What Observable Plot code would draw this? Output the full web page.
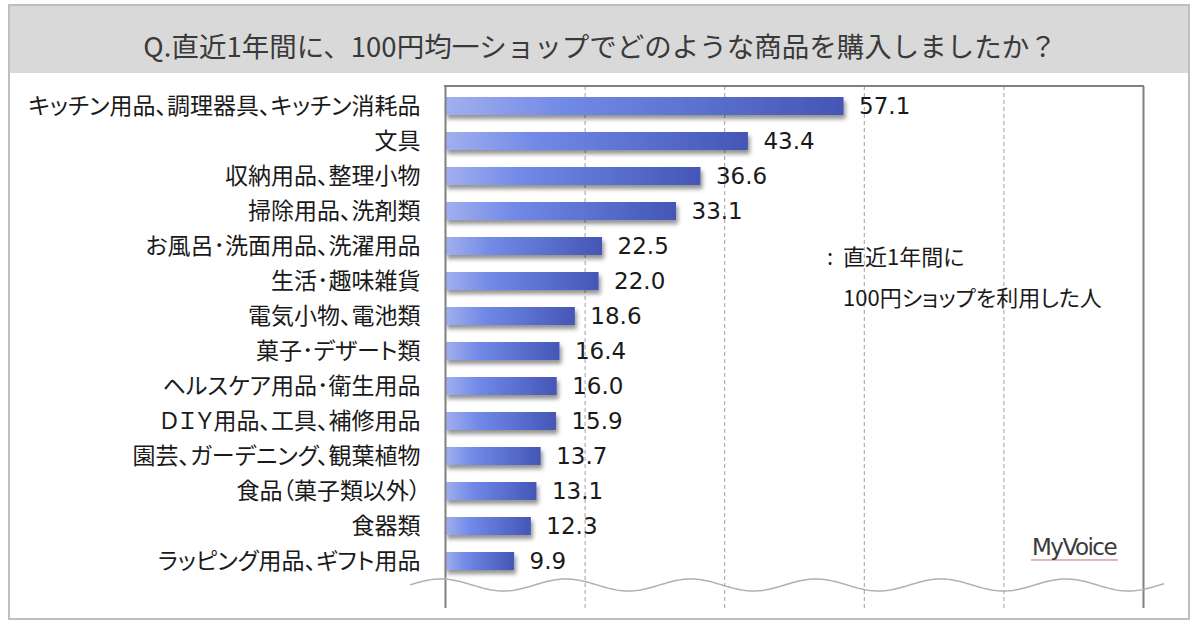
<!DOCTYPE html>
<html>
<head>
<meta charset="utf-8">
<script src="https://cdn.jsdelivr.net/npm/d3@7"></script>
<script src="https://cdn.jsdelivr.net/npm/@observablehq/plot@0.6"></script>
<style>
  html, body { margin: 0; padding: 0; background: #fff; }
  #wrap { position: relative; width: 1200px; height: 624px; overflow: hidden; background: #fff; }
  #border { position: absolute; left: 8px; top: 4px; width: 1182px; height: 616px; border: 2px solid #bfbfbf; box-sizing: border-box; }
  #titlebar { position: absolute; left: 10px; top: 6px; width: 1178px; height: 67px; background: #d9d9d9; }
  #title { position: absolute; left: 0; width: 1200px; top: 32px; text-align: center; font-family: "Noto Sans CJK JP", sans-serif; font-size: 27.5px; line-height: 27.5px; color: #3a3a3a; white-space: nowrap; }
  #chart { position: absolute; left: 0; top: 73px; }
  #chart svg text { font-feature-settings: "palt"; }
  .legend { position: absolute; font-family: "Noto Sans CJK JP", sans-serif; font-size: 22px; line-height: 22px; color: #1a1a1a; font-feature-settings: "palt"; white-space: nowrap; }
  #logo { position: absolute; left: 1031px; top: 535px; font-family: "DejaVu Sans", sans-serif; font-size: 23px; line-height: 24px; letter-spacing: -1.5px; color: #3a3a3a; border-bottom: 2px solid rgba(205,120,120,0.55); padding: 0 2px 0 1px; }
</style>
</head>
<body>
<div id="wrap">
  <div id="border"></div>
  <div id="titlebar"></div>
  <div id="title"></div>
  <div id="chart"></div>
  <div id="legendColon" class="legend" style="left:827px; top:244px;"></div>
  <div id="legend1" class="legend" style="left:843px; top:244px;"></div>
  <div id="legend2" class="legend" style="left:843px; top:285px;"></div>
  <div id="logo">MyVoice</div>
</div>
<script>
// ---- data ----
const titleText = "Q.直近1年間に、100円均一ショップでどのような商品を購入しましたか？";
const categories = [
  "キッチン用品、調理器具、キッチン消耗品",
  "文具",
  "収納用品、整理小物",
  "掃除用品、洗剤類",
  "お風呂･洗面用品、洗濯用品",
  "生活･趣味雑貨",
  "電気小物、電池類",
  "菓子･デザート類",
  "ヘルスケア用品･衛生用品",
  "ＤＩＹ用品、工具、補修用品",
  "園芸、ガーデニング、観葉植物",
  "食品（菓子類以外）",
  "食器類",
  "ラッピング用品、ギフト用品"
];
const values = [57.1, 43.4, 36.6, 33.1, 22.5, 22.0, 18.6, 16.4, 16.0, 15.9, 13.7, 13.1, 12.3, 9.9];
const gridTicks = [20, 40, 60, 80];
const frameTicks = [0, 100];
const legendMarker = ":";
const legendLines = ["直近1年間に", "100円ショップを利用した人"];

document.getElementById("title").textContent = titleText;
document.getElementById("legendColon").textContent = legendMarker;
document.getElementById("legend1").textContent = legendLines[0];
document.getElementById("legend2").textContent = legendLines[1];

const data = categories.map((c, i) => ({category: c, value: values[i]}));
const fmt = d3.format(".1f");

const defsMark = () => {
  const defs = d3.create("svg:defs");
  const lg = defs.append("linearGradient").attr("id", "barGrad")
    .attr("x1", 0).attr("x2", 1).attr("y1", 0).attr("y2", 0);
  lg.append("stop").attr("offset", "0%").attr("stop-color", "#a2b0ee");
  lg.append("stop").attr("offset", "30%").attr("stop-color", "#7189e7");
  lg.append("stop").attr("offset", "100%").attr("stop-color", "#4456b6");
  const f = defs.append("filter").attr("id", "barShadow")
    .attr("x", "-5%").attr("y", "-40%").attr("width", "115%").attr("height", "200%");
  f.append("feDropShadow").attr("dx", 2).attr("dy", 4).attr("stdDeviation", 2)
    .attr("flood-color", "#000").attr("flood-opacity", 0.42);
  return defs.node();
};

const topLine = (index, scales, vals, dim) => {
  return d3.create("svg:line")
    .attr("x1", dim.marginLeft - 1).attr("x2", dim.width - dim.marginRight + 1)
    .attr("y1", dim.marginTop).attr("y2", dim.marginTop)
    .attr("stroke", "#808080").attr("stroke-width", 2).node();
};

const waveMark = (index, scales, vals, dim) => {
  const x0 = dim.marginLeft - 35, x1 = dim.width - dim.marginRight + 22;
  const yc = dim.height - dim.marginBottom - 23;
  const phase = scales.x(80), period = 125, amp = 6;
  const pts = d3.range(x0, x1 + 1, 2).map(x => [x, yc + amp * Math.cos((x - phase) * 2 * Math.PI / period)]);
  return d3.create("svg:path").attr("d", d3.line()(pts))
    .attr("fill", "none").attr("stroke", "#b0b0b0").attr("stroke-width", 1.5).node();
};

const plot = Plot.plot({
  width: 1200,
  height: 551,
  marginLeft: 445,
  marginRight: 57,
  marginTop: 13,
  marginBottom: 16,
  style: {fontFamily: "'Noto Sans CJK JP', sans-serif", fontSize: "23px", color: "#1a1a1a", background: "transparent"},
  x: {domain: [0, 100], axis: null},
  y: {domain: categories, range: [12, 508], paddingInner: 0.49, paddingOuter: 0.25, tickSize: 0, tickPadding: 25, label: null},
  marks: [
    defsMark,
    Plot.ruleX(gridTicks, {stroke: "#a0a0a0", strokeWidth: 1, strokeDasharray: "4,3"}),
    Plot.barX(data, {x: "value", y: "category", fill: "url(#barGrad)"}),
    Plot.text(data, {x: "value", y: "category", text: d => fmt(d.value), dx: 15, textAnchor: "start",
      fontFamily: "DejaVu Sans", fontSize: 23, fill: "#1a1a1a"}),
    Plot.ruleX(frameTicks, {stroke: "#808080", strokeWidth: 2}),
    topLine,
    waveMark
  ]
});
d3.select(plot).selectAll('g[aria-label="bar"]').attr("filter", "url(#barShadow)");
document.getElementById("chart").appendChild(plot);
</script>
</body>
</html>
